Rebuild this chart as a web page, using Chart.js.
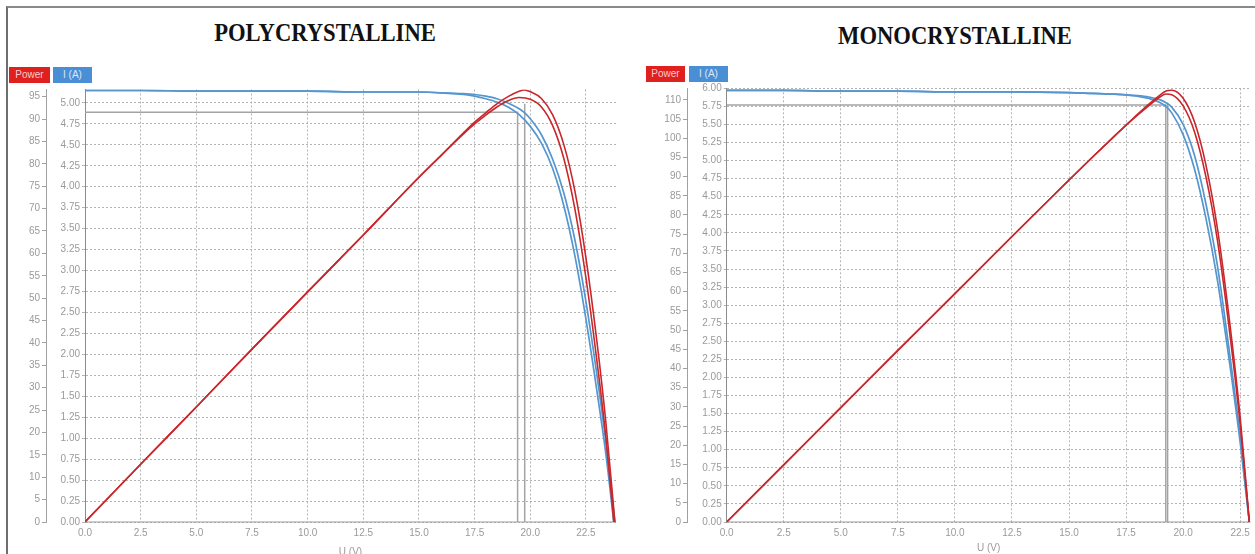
<!DOCTYPE html>
<html><head><meta charset="utf-8">
<script src="https://cdn.jsdelivr.net/npm/chart.js@4.4.1/dist/chart.umd.min.js"></script>
<style>
html,body{margin:0;padding:0;background:#fff;overflow:hidden;width:1255px;height:554px;position:relative;}
#frame{position:absolute;left:6px;top:6px;width:1270px;height:570px;border-left:2px solid #6e6e6e;border-top:2px solid #8a8a8a;}
.title{position:absolute;font-family:"Liberation Serif","Times New Roman",serif;font-weight:bold;font-size:26px;color:#111;white-space:nowrap;transform:translate(-50%,-50%) scaleX(0.87);}
.lg{position:absolute;height:16px;font:10px "Liberation Sans",Arial,sans-serif;line-height:16px;text-align:center;}
canvas{position:absolute;top:0;}
</style></head><body>
<div id="frame"></div>
<div class="title" style="left:325px;top:33px;">POLYCRYSTALLINE</div>
<div class="title" style="left:955px;top:36px;">MONOCRYSTALLINE</div>
<div class="lg" style="left:9px;top:67px;width:41px;background:#e01f1f;color:#f7cccc;">Power</div>
<div class="lg" style="left:53px;top:67px;width:39px;background:#4a8fd5;color:#dbe8f7;">I (A)</div>
<div class="lg" style="left:646px;top:66px;width:39px;background:#e01f1f;color:#f7cccc;">Power</div>
<div class="lg" style="left:689px;top:66px;width:39px;background:#4a8fd5;color:#dbe8f7;">I (A)</div>
<canvas id="c1" width="615" height="560" style="left:8px;"></canvas>
<canvas id="c2" width="608" height="560" style="left:647px;"></canvas>
<script>
// ---------- Polycrystalline ----------
const polyVa = [0,2.5,5,7.5,10,12.5,15,16,17,17.5,18,18.5,19,19.5,20,20.5,21,21.5,22,22.5,23,23.4,23.75];
const polyIa = [5.15,5.15,5.14,5.14,5.14,5.13,5.13,5.12,5.10,5.08,5.05,5.01,4.95,4.86,4.72,4.52,4.22,3.78,3.18,2.42,1.55,0.80,0];
const polyPa = [0,12.9,25.7,38.6,51.4,64.1,77.0,81.9,86.7,88.9,90.9,92.7,94.1,94.8,94.4,92.7,88.6,81.3,70.0,54.5,35.7,18.7,0];
const polyVb = [0,2.5,5,7.5,10,12.5,15,16,17,17.5,18,18.5,19,19.5,19.75,20,20.5,21,21.5,22,22.5,23,23.4,23.8];
const polyIb = [5.15,5.15,5.14,5.14,5.14,5.13,5.13,5.12,5.11,5.10,5.08,5.05,5.00,4.93,4.88,4.81,4.62,4.33,3.93,3.37,2.63,1.74,0.94,0];
const polyPb = [0,12.9,25.7,38.6,51.4,64.1,77.0,81.9,86.9,89.3,91.4,93.4,95.0,96.2,96.5,96.1,94.6,91.0,84.4,74.0,59.0,40.0,22.0,0];
const polyMppV = [19.43, 19.75];
const polyMppI = [4.89, 4.99];
const polyXTicks = [0,2.5,5,7.5,10,12.5,15,17.5,20,22.5];
const polyPTicks = [0,5,10,15,20,25,30,35,40,45,50,55,60,65,70,75,80,85,90,95];
const polyITicks = [0,0.25,0.5,0.75,1,1.25,1.5,1.75,2,2.25,2.5,2.75,3,3.25,3.5,3.75,4,4.25,4.5,4.75,5];

// ---------- Monocrystalline ----------
const monoVa = [0,2.5,5,7.5,10,12.5,15,16,17,17.5,18,18.5,19,19.25,19.5,20,20.5,21,21.5,22,22.5,22.9];
const monoIa = [5.97,5.97,5.96,5.96,5.95,5.95,5.94,5.93,5.92,5.91,5.89,5.86,5.80,5.75,5.66,5.36,4.88,4.20,3.35,2.28,1.10,0];
const monoPa = [0,14.9,29.8,44.7,59.5,74.4,89.1,94.9,100.6,103.4,106.0,108.5,110.8,111.5,111.3,108.4,101.6,89.9,73.5,51.3,25.4,0];
const monoVb = [0,2.5,5,7.5,10,12.5,15,16,17,17.5,18,18.5,19,19.25,19.5,20,20.5,21,21.5,22,22.5,22.9];
const monoIb = [5.97,5.97,5.96,5.96,5.95,5.95,5.94,5.93,5.92,5.91,5.90,5.88,5.84,5.80,5.74,5.50,5.07,4.40,3.55,2.42,1.18,0];
const monoPb = [0,14.9,29.8,44.7,59.5,74.4,89.1,94.9,100.6,103.4,106.2,108.9,111.3,112.3,112.5,110.4,104.2,93.0,76.6,54.0,27.3,0];
const monoMppV = [19.24, 19.32];
const monoMppI = [5.77, 5.80];
const monoXTicks = [0,2.5,5,7.5,10,12.5,15,17.5,20,22.5];
const monoPTicks = [0,5,10,15,20,25,30,35,40,45,50,55,60,65,70,75,80,85,90,95,100,105,110];
const monoITicks = [0,0.25,0.5,0.75,1,1.25,1.5,1.75,2,2.25,2.5,2.75,3,3.25,3.5,3.75,4,4.25,4.5,4.75,5,5.25,5.5,5.75,6];

const RED = '#c8272b', BLUE = '#5596cf', GREY = '#a4a4a4';
const TICK_FONT = {family: '"Liberation Sans", Arial, sans-serif', size: 10};
const TICK_COLOR = '#9a9a9a';

function pts(xs, ys){ return xs.map((x,i)=>({x:x, y:ys[i]})); }

const baseline = {
  id:'baseline',
  beforeDatasetsDraw(chart){
    const a = chart.chartArea, ctx = chart.ctx;
    ctx.save();
    ctx.strokeStyle = '#9c9c9c'; ctx.lineWidth = 1.2; ctx.setLineDash([]);
    ctx.beginPath(); ctx.moveTo(a.left, a.bottom); ctx.lineTo(a.right, a.bottom); ctx.stroke();
    ctx.restore();
  }
};

function build(id, d){
  const mppA = [{x:0,y:d.mppI[0]},{x:d.mppV[0],y:d.mppI[0]},{x:d.mppV[0],y:0}];
  const mppB = [{x:d.mppV[1],y:d.mppI[1]},{x:d.mppV[1],y:0}];
  const lineBase = {pointRadius:0, fill:false, cubicInterpolationMode:'monotone'};
  new Chart(document.getElementById(id), {
    type:'line',
    plugins:[baseline],
    data:{datasets:[
      Object.assign({data:pts(d.Vb,d.Pb), borderColor:RED, borderWidth:1.6, yAxisID:'yP'}, lineBase),
      Object.assign({data:pts(d.Va,d.Pa), borderColor:RED, borderWidth:1.6, yAxisID:'yP'}, lineBase),
      Object.assign({data:pts(d.Vb,d.Ib), borderColor:BLUE, borderWidth:1.7, yAxisID:'yI'}, lineBase),
      Object.assign({data:pts(d.Va,d.Ia), borderColor:BLUE, borderWidth:1.7, yAxisID:'yI'}, lineBase),
      {data:mppA, borderColor:GREY, borderWidth:1.5, pointRadius:0, tension:0, yAxisID:'yI'},
      {data:mppB, borderColor:GREY, borderWidth:1.5, pointRadius:0, tension:0, yAxisID:'yI'}
    ]},
    options:{
      responsive:false, animation:false, devicePixelRatio:1,
      layout:{padding:{top:d.padTop, right:d.padRight, left:0, bottom:0}},
      plugins:{legend:{display:false}, tooltip:{enabled:false}},
      scales:{
        x:{type:'linear', min:0, max:d.xMax,
          afterBuildTicks:s=>{s.ticks=d.xTicks.map(v=>({value:v}));},
          afterFit:s=>{s.height=38;},
          ticks:{font:TICK_FONT, color:TICK_COLOR, padding:5, maxRotation:0, callback:v=>Number(v).toFixed(1)},
          grid:{color:'#b4b4b4', drawTicks:false},
          border:{display:false, dash:[2,2]},
          title:{display:true, text:'U (V)', color:TICK_COLOR, font:TICK_FONT, padding:{top:0,bottom:d.titlePad}}
        },
        yP:{type:'linear', position:'left', weight:1, min:0, max:d.pMax,
          afterBuildTicks:s=>{s.ticks=d.pTicks.map(v=>({value:v}));},
          afterFit:s=>{s.width=d.wP;},
          ticks:{font:TICK_FONT, color:TICK_COLOR, padding:2, callback:v=>String(v)},
          grid:{drawOnChartArea:false, drawTicks:true, tickLength:4, color:'#a0a0a0'},
          border:{display:true, color:'#a0a0a0', width:1}
        },
        yI:{type:'linear', position:'left', weight:0, min:0, max:d.iMax,
          afterBuildTicks:s=>{s.ticks=d.iTicks.map(v=>({value:v}));},
          afterFit:s=>{s.width=d.wI;},
          ticks:{font:TICK_FONT, color:TICK_COLOR, padding:2, callback:v=>Number(v).toFixed(2)},
          grid:{color:'#b4b4b4', drawTicks:true, tickLength:3},
          border:{display:true, color:'#8c8c8c', width:1, dash:[2,2]}
        }
      }
    }
  });
}

build('c1', {Va:polyVa, Ia:polyIa, Pa:polyPa, Vb:polyVb, Ib:polyIb, Pb:polyPb,
  mppV:polyMppV, mppI:polyMppI, xTicks:polyXTicks, pTicks:polyPTicks, iTicks:polyITicks,
  xMax:23.85, pMax:96.6, iMax:5.16, padTop:89.5, padRight:7, wP:38, wI:39, titlePad:2});
build('c2', {Va:monoVa, Ia:monoIa, Pa:monoPa, Vb:monoVb, Ib:monoIb, Pb:monoPb,
  mppV:monoMppV, mppI:monoMppI, xTicks:monoXTicks, pTicks:monoPTicks, iTicks:monoITicks,
  xMax:22.95, pMax:113, iMax:6.0, padTop:88.3, padRight:4, wP:40, wI:39.7, titlePad:6});
</script>
</body></html>
